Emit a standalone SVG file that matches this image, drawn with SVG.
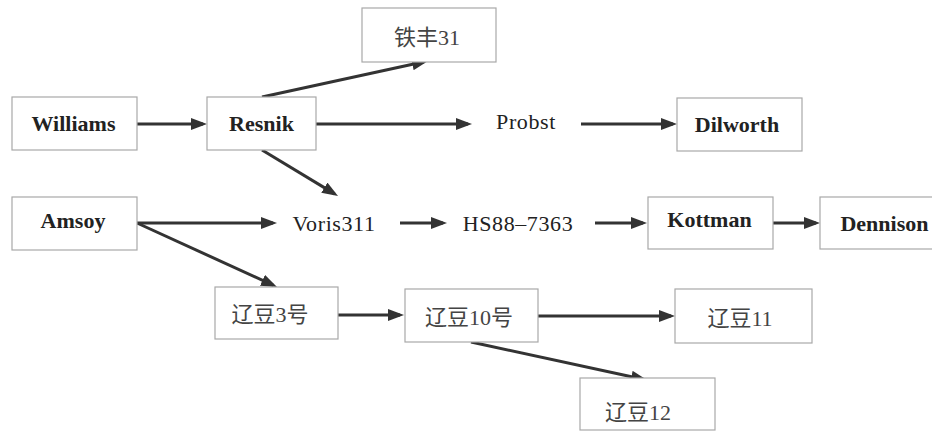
<svg xmlns="http://www.w3.org/2000/svg" width="932" height="432" viewBox="0 0 932 432">
  <style>
    .box { fill: #ffffff; stroke: #a8a8a8; stroke-width: 1.2; }
    .lat { font-family: "Liberation Serif", "Noto Sans CJK SC", serif; font-size: 22px; fill: #222; text-anchor: middle; }
    .b { font-weight: bold; }
    .r { letter-spacing: 0.6px; }
    .cjk { font-family: "Liberation Serif", "Noto Sans CJK SC", serif; font-size: 22px; fill: #444; text-anchor: middle; }
    .edge { stroke: #333; stroke-width: 3; fill: none; marker-end: url(#arrow); }
  </style>
  <defs>
    <marker id="arrow" markerUnits="userSpaceOnUse" markerWidth="16" markerHeight="12" refX="12" refY="6" orient="auto">
      <path d="M0,0 L16,6 L0,12 Z" fill="#333"/>
    </marker>
  </defs>
  <rect width="932" height="432" fill="#ffffff"/>

  <g id="connectors">
    <line class="edge" x1="137" y1="124" x2="203" y2="124"/>
    <line class="edge" x1="262" y1="97" x2="424.1" y2="61.8"/>
    <line class="edge" x1="316" y1="124" x2="468" y2="124"/>
    <line class="edge" x1="581" y1="124" x2="673" y2="124"/>
    <line class="edge" x1="262" y1="150" x2="334.6" y2="193.9"/>
    <line class="edge" x1="137" y1="223" x2="273" y2="223"/>
    <line class="edge" x1="400" y1="223" x2="443" y2="223"/>
    <line class="edge" x1="595" y1="223" x2="643" y2="223"/>
    <line class="edge" x1="773" y1="223" x2="816" y2="223"/>
    <line class="edge" x1="137" y1="223" x2="273.4" y2="285.3"/>
    <line class="edge" x1="338" y1="315" x2="400" y2="315"/>
    <line class="edge" x1="538" y1="316" x2="671" y2="316"/>
    <line class="edge" x1="471" y1="342" x2="643.1" y2="379.2"/>
  </g>

  <g id="williams">
    <rect class="box" x="12" y="97" width="125" height="53"/>
    <text class="lat b" x="73.5" y="131">Williams</text>
  </g>
  <g id="resnik">
    <rect class="box" x="207" y="97" width="109" height="53"/>
    <text class="lat b" x="261.5" y="131">Resnik</text>
  </g>
  <g id="tiefeng31">
    <rect class="box" x="362" y="8" width="134" height="54"/>
    <text class="cjk" x="427" y="45">铁丰31</text>
  </g>
  <g id="probst">
    <text class="lat r" x="526" y="129">Probst</text>
  </g>
  <g id="dilworth">
    <rect class="box" x="677" y="98" width="125" height="53"/>
    <text class="lat b" x="737" y="132">Dilworth</text>
  </g>
  <g id="amsoy">
    <rect class="box" x="12" y="197" width="125" height="53"/>
    <text class="lat b" x="73" y="228">Amsoy</text>
  </g>
  <g id="voris311">
    <text class="lat r" x="334" y="231">Voris311</text>
  </g>
  <g id="hs88-7363">
    <text class="lat r" x="518" y="231">HS88–7363</text>
  </g>
  <g id="kottman">
    <rect class="box" x="648" y="197" width="125" height="52"/>
    <text class="lat b" x="709.5" y="227">Kottman</text>
  </g>
  <g id="dennison">
    <rect class="box" x="820" y="197" width="130" height="52"/>
    <text class="lat b" x="884.5" y="231">Dennison</text>
  </g>
  <g id="liaodou3">
    <rect class="box" x="215" y="287" width="123" height="52"/>
    <text class="cjk" x="270" y="322">辽豆3号</text>
  </g>
  <g id="liaodou10">
    <rect class="box" x="405" y="289" width="133" height="53"/>
    <text class="cjk" x="469" y="325">辽豆10号</text>
  </g>
  <g id="liaodou11">
    <rect class="box" x="675" y="289" width="137" height="54"/>
    <text class="cjk" x="740" y="326">辽豆11</text>
  </g>
  <g id="liaodou12">
    <rect class="box" x="580" y="378" width="135" height="52"/>
    <text class="cjk" x="638" y="420">辽豆12</text>
  </g>
</svg>
